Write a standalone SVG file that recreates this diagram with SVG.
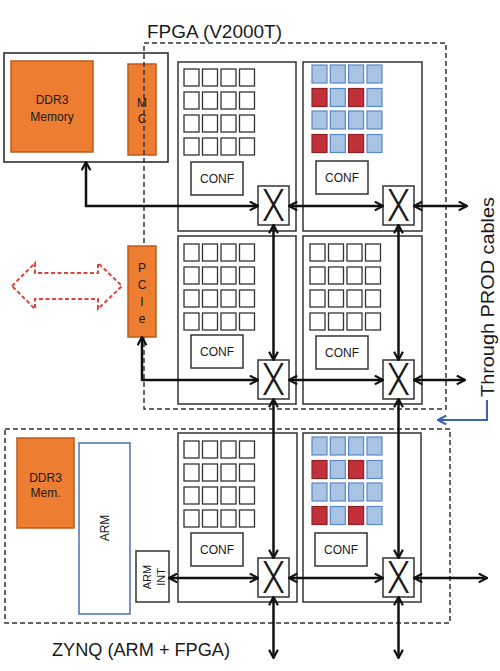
<svg xmlns="http://www.w3.org/2000/svg" xmlns:xlink="http://www.w3.org/1999/xlink" width="500" height="671" viewBox="0 0 500 671">
<style>
  .t { font-family: "Liberation Sans", Arial, sans-serif; fill: #1a1a1a; }
  .title { font-size: 18.5px; }
  .lbl { font-size: 12px; text-anchor: middle; }
  .tile { fill: #ffffff; stroke: #333333; stroke-width: 1.5; }
  .cell { fill: #ffffff; stroke: #333333; stroke-width: 1.3; }
  .cb { fill: #a9c3e3; stroke: #5a87c8; stroke-width: 1.2; }
  .cr { fill: #c2303a; stroke: #8e1f26; stroke-width: 1.2; }
  .conf { fill: #ffffff; stroke: #333333; stroke-width: 1.5; }
  .sw { fill: #ffffff; stroke: #333333; stroke-width: 1.5; }
  .swx { font-family: Roboto, "Liberation Sans", sans-serif; font-weight: 300; font-size: 44px; text-anchor: middle; fill: #1a1a1a; }
  .orange { fill: #ec7d31; stroke: #c15a17; stroke-width: 1.5; }
  .dash { fill: none; stroke: #333333; stroke-width: 1.5; stroke-dasharray: 5 3; }
  .conn { fill: none; stroke: #111111; stroke-width: 2.5; marker-start: url(#ah); marker-end: url(#ah); }
</style>
<defs>
  <marker id="ah" viewBox="0 0 10 10" refX="9" refY="5" markerUnits="userSpaceOnUse" markerWidth="11" markerHeight="11" orient="auto-start-reverse">
    <path d="M1.5,1 L9,5 L1.5,9" fill="none" stroke="#111111" stroke-width="2"/>
  </marker>
  <marker id="ahb" viewBox="0 0 10 10" refX="9" refY="5" markerUnits="userSpaceOnUse" markerWidth="11" markerHeight="11" orient="auto">
    <path d="M1.5,1 L9,5 L1.5,9" fill="none" stroke="#3b64ad" stroke-width="2"/>
  </marker>
  <g id="gridW">
    <rect class="cell" x="0" y="0" width="15" height="17"/><rect class="cell" x="18.5" y="0" width="15" height="17"/><rect class="cell" x="37" y="0" width="15" height="17"/><rect class="cell" x="55.5" y="0" width="15" height="17"/>
    <rect class="cell" x="0" y="23" width="15" height="17"/><rect class="cell" x="18.5" y="23" width="15" height="17"/><rect class="cell" x="37" y="23" width="15" height="17"/><rect class="cell" x="55.5" y="23" width="15" height="17"/>
    <rect class="cell" x="0" y="46" width="15" height="17"/><rect class="cell" x="18.5" y="46" width="15" height="17"/><rect class="cell" x="37" y="46" width="15" height="17"/><rect class="cell" x="55.5" y="46" width="15" height="17"/>
    <rect class="cell" x="0" y="69" width="15" height="17"/><rect class="cell" x="18.5" y="69" width="15" height="17"/><rect class="cell" x="37" y="69" width="15" height="17"/><rect class="cell" x="55.5" y="69" width="15" height="17"/>
  </g>
  <g id="gridC">
    <rect class="cb" x="0" y="0" width="15" height="18"/><rect class="cb" x="18.3" y="0" width="15" height="18"/><rect class="cb" x="36.6" y="0" width="15" height="18"/><rect class="cb" x="55" y="0" width="15" height="18"/>
    <rect class="cr" x="0" y="23.5" width="15" height="18"/><rect class="cb" x="18.3" y="23.5" width="15" height="18"/><rect class="cr" x="36.6" y="23.5" width="15" height="18"/><rect class="cb" x="55" y="23.5" width="15" height="18"/>
    <rect class="cb" x="0" y="46" width="15" height="18"/><rect class="cb" x="18.3" y="46" width="15" height="18"/><rect class="cb" x="36.6" y="46" width="15" height="18"/><rect class="cb" x="55" y="46" width="15" height="18"/>
    <rect class="cr" x="0" y="69.5" width="15" height="18"/><rect class="cb" x="18.3" y="69.5" width="15" height="18"/><rect class="cr" x="36.6" y="69.5" width="15" height="18"/><rect class="cb" x="55" y="69.5" width="15" height="18"/>
  </g>
</defs>

<rect width="500" height="671" fill="#ffffff"/>

<!-- External DDR3 memory + MC -->
<g id="ddr-ext">
  <rect x="4" y="53" width="164" height="109" fill="#ffffff" stroke="#222222" stroke-width="1.5"/>
  <rect class="orange" x="11" y="61" width="82" height="91"/>
  <text class="t lbl" x="52" y="104">DDR3</text>
  <text class="t lbl" x="52" y="121">Memory</text>
</g>
<g id="mc">
  <rect class="orange" x="128" y="64" width="28" height="91"/>
  <text class="t lbl" x="142" y="107">M</text>
  <text class="t lbl" x="142" y="123">C</text>
</g>

<!-- FPGA boundary -->
<g id="fpga">
  <rect class="dash" x="144" y="43" width="302" height="366"/>
  <text class="t title" x="147" y="38" textLength="135" lengthAdjust="spacingAndGlyphs">FPGA (V2000T)</text>
</g>

<!-- ZYNQ boundary -->
<g id="zynq">
  <rect class="dash" x="5" y="429" width="445" height="194"/>
  <text class="t title" x="52" y="656" textLength="178" lengthAdjust="spacingAndGlyphs">ZYNQ (ARM + FPGA)</text>
</g>

<g id="pcie">
  <rect class="orange" x="128" y="246" width="28" height="91"/>
  <text class="t lbl" x="142" y="272">P</text>
  <text class="t lbl" x="142" y="289">C</text>
  <text class="t lbl" x="142" y="306">I</text>
  <text class="t lbl" x="142" y="323">e</text>
</g>

<g id="ext-link">
  <polygon points="12,286 35,263 35,273 98,273 98,263 122,286 98,309 98,299 35,299 35,309" fill="none" stroke="#e0443e" stroke-width="2" stroke-dasharray="4 2.5"/>
</g>

<!-- Tiles -->
<g id="tile-1">
  <rect class="tile" x="178" y="62" width="118" height="169"/>
  <use xlink:href="#gridW" x="184" y="69"/>
  <rect class="conf" x="191" y="162" width="52" height="33"/>
  <text class="t lbl" x="217" y="183">CONF</text>
</g>
<g id="tile-2">
  <rect class="tile" x="303" y="62" width="119" height="169"/>
  <use xlink:href="#gridC" x="312" y="65"/>
  <rect class="conf" x="316" y="161" width="52" height="33"/>
  <text class="t lbl" x="342" y="182">CONF</text>
</g>
<g id="tile-3">
  <rect class="tile" x="178" y="236" width="118" height="168"/>
  <use xlink:href="#gridW" x="184" y="244"/>
  <rect class="conf" x="191" y="335" width="52" height="33"/>
  <text class="t lbl" x="217" y="356">CONF</text>
</g>
<g id="tile-4">
  <rect class="tile" x="303" y="236" width="119" height="168"/>
  <use xlink:href="#gridW" x="310" y="244"/>
  <rect class="conf" x="316" y="336" width="52" height="33"/>
  <text class="t lbl" x="342" y="357">CONF</text>
</g>
<g id="tile-5">
  <rect class="tile" x="178" y="433" width="119" height="169"/>
  <use xlink:href="#gridW" x="184" y="441"/>
  <rect class="conf" x="191" y="533" width="52" height="33"/>
  <text class="t lbl" x="217" y="554">CONF</text>
</g>
<g id="tile-6">
  <rect class="tile" x="303" y="433" width="118" height="169"/>
  <use xlink:href="#gridC" x="312" y="437"/>
  <rect class="conf" x="315" y="533" width="52" height="33"/>
  <text class="t lbl" x="341" y="554">CONF</text>
</g>

<!-- ZYNQ parts -->
<g id="ddr-zynq">
  <rect class="orange" x="17" y="438" width="57" height="90"/>
  <text class="t lbl" x="45.5" y="482">DDR3</text>
  <text class="t lbl" x="45.5" y="497">Mem.</text>
</g>
<g id="arm">
  <rect x="79" y="443" width="51" height="171" fill="#ffffff" stroke="#4a72b8" stroke-width="1.5"/>
  <text class="t lbl" transform="translate(109,528) rotate(-90)">ARM</text>
</g>
<g id="arm-int">
  <rect x="136" y="551" width="33" height="51" fill="#ffffff" stroke="#333333" stroke-width="1.5"/>
  <text class="t" font-size="11" text-anchor="middle" transform="translate(151,577) rotate(-90)">ARM</text>
  <text class="t" font-size="11" text-anchor="middle" transform="translate(165,577) rotate(-90)">INT</text>
</g>

<!-- Switches -->
<g id="sw-1"><rect class="sw" x="258" y="186" width="31" height="39"/><text class="swx" x="273.5" y="221" textLength="23" lengthAdjust="spacingAndGlyphs">X</text></g>
<g id="sw-2"><rect class="sw" x="383" y="186" width="31" height="39"/><text class="swx" x="398.5" y="221" textLength="23" lengthAdjust="spacingAndGlyphs">X</text></g>
<g id="sw-3"><rect class="sw" x="258" y="360" width="31" height="39"/><text class="swx" x="273.5" y="395" textLength="23" lengthAdjust="spacingAndGlyphs">X</text></g>
<g id="sw-4"><rect class="sw" x="383" y="360" width="31" height="39"/><text class="swx" x="398.5" y="395" textLength="23" lengthAdjust="spacingAndGlyphs">X</text></g>
<g id="sw-5"><rect class="sw" x="258" y="558" width="31" height="39"/><text class="swx" x="273.5" y="593" textLength="23" lengthAdjust="spacingAndGlyphs">X</text></g>
<g id="sw-6"><rect class="sw" x="383" y="558" width="31" height="39"/><text class="swx" x="398.5" y="593" textLength="23" lengthAdjust="spacingAndGlyphs">X</text></g>

<!-- Connectors -->
<g id="connectors">
  <polyline class="conn" points="86,162 86,206 258,206"/>
  <line class="conn" x1="289" y1="206" x2="383" y2="206"/>
  <line class="conn" x1="414" y1="206" x2="467" y2="206"/>
  <polyline class="conn" points="142,337 142,380 258,380"/>
  <line class="conn" x1="289" y1="380" x2="383" y2="380"/>
  <line class="conn" x1="414" y1="380" x2="465" y2="380"/>
  <line class="conn" x1="169" y1="578" x2="258" y2="578"/>
  <line class="conn" x1="289" y1="578" x2="383" y2="578"/>
  <line class="conn" x1="414" y1="578" x2="487" y2="578"/>
  <line class="conn" x1="273.5" y1="225" x2="273.5" y2="360"/>
  <line class="conn" x1="273.5" y1="399" x2="273.5" y2="558"/>
  <line class="conn" x1="273.5" y1="597" x2="273.5" y2="658"/>
  <line class="conn" x1="398.5" y1="225" x2="398.5" y2="360"/>
  <line class="conn" x1="398.5" y1="399" x2="398.5" y2="558"/>
  <line class="conn" x1="398.5" y1="597" x2="398.5" y2="658"/>
  <polyline points="487,400 487,420 438,420" fill="none" stroke="#3b64ad" stroke-width="2" marker-end="url(#ahb)"/>
</g>

<g id="prod-label">
  <text class="t title" text-anchor="middle" transform="translate(494,297) rotate(-90)" textLength="200" lengthAdjust="spacingAndGlyphs">Through PROD cables</text>
</g>
</svg>
